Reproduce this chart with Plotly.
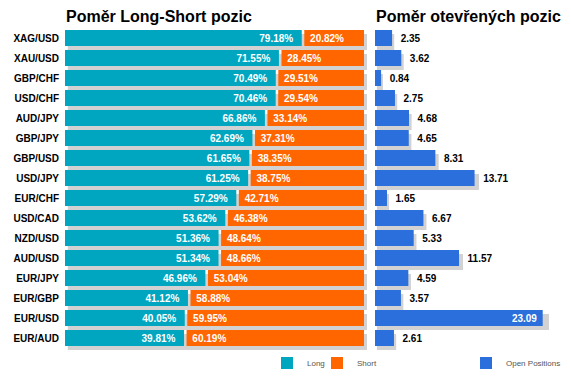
import plotly.graph_objects as go

pairs = ["XAG/USD", "XAU/USD", "GBP/CHF", "USD/CHF", "AUD/JPY", "GBP/JPY", "GBP/USD", "USD/JPY",
         "EUR/CHF", "USD/CAD", "NZD/USD", "AUD/USD", "EUR/JPY", "EUR/GBP", "EUR/USD", "EUR/AUD"]
long_pct = [79.18, 71.55, 70.49, 70.46, 66.86, 62.69, 61.65, 61.25,
            57.29, 53.62, 51.36, 51.34, 46.96, 41.12, 40.05, 39.81]
short_pct = [20.82, 28.45, 29.51, 29.54, 33.14, 37.31, 38.35, 38.75,
             42.71, 46.38, 48.64, 48.66, 53.04, 58.88, 59.95, 60.19]
open_pos = [2.35, 3.62, 0.84, 2.75, 4.68, 4.65, 8.31, 13.71,
            1.65, 6.67, 5.33, 11.57, 4.59, 3.57, 23.09, 2.61]

W, H = 571, 379
TEAL, ORANGE, BLUE, SHADOW = "#00A6C0", "#FF6600", "#2A6FDB", "#D2D2D2"
FONT = "Liberation Sans, Arial, sans-serif"
GAP = 0.85  # white gap between long and short (percentage units)
NB = "\u00a0"

def px(x):
    return x / W

def py(y):
    return 1 - y / H

main_y = [py(348), py(28)]
shadow_y = [py(352), py(32)]
full = [100] * len(pairs)

fig = go.Figure()

# left shadow (subplot xy)
fig.add_trace(go.Bar(y=pairs, x=full, orientation="h", marker=dict(color=SHADOW, line_width=0),
                     xaxis="x", yaxis="y", showlegend=False, hoverinfo="skip"))
# left main (x2y2)
fig.add_trace(go.Bar(y=pairs, x=long_pct, orientation="h", name="Long",
                     marker=dict(color=TEAL, line_width=0),
                     text=[f"{v:.2f}%{NB}{NB}" for v in long_pct], textposition="inside",
                     insidetextanchor="end", textangle=0, constraintext="none",
                     insidetextfont=dict(color="white", size=10, family=FONT, weight="bold"),
                     xaxis="x2", yaxis="y2", legend="legend", hoverinfo="skip"))
fig.add_trace(go.Bar(y=pairs, x=[s - GAP for s in short_pct], base=[l + GAP for l in long_pct],
                     orientation="h", name="Short",
                     marker=dict(color=ORANGE, line_width=0),
                     text=[f"{NB}{v:.2f}%" for v in short_pct], textposition="inside",
                     insidetextanchor="start", textangle=0, constraintext="none",
                     insidetextfont=dict(color="white", size=10, family=FONT, weight="bold"),
                     xaxis="x2", yaxis="y2", legend="legend3", hoverinfo="skip"))
# right shadow (x3y3)
fig.add_trace(go.Bar(y=pairs, x=open_pos, orientation="h", marker=dict(color=SHADOW, line_width=0),
                     xaxis="x3", yaxis="y3", showlegend=False, hoverinfo="skip"))
# right main (x4y4)
fig.add_trace(go.Bar(y=pairs, x=open_pos, orientation="h", name="Open Positions",
                     marker=dict(color=BLUE, line_width=0),
                     text=[(f"{v:.2f}{NB}" if v > 20 else f"{NB}{NB}{v:.2f}") for v in open_pos],
                     textposition=["inside" if v > 20 else "outside" for v in open_pos],
                     insidetextanchor="end", textangle=0, cliponaxis=False, constraintext="none",
                     insidetextfont=dict(color="white", size=10, family=FONT, weight="bold"),
                     outsidetextfont=dict(color="black", size=10, family=FONT, weight="bold"),
                     xaxis="x4", yaxis="y4", legend="legend2", hoverinfo="skip"))

hidden_x = dict(visible=False, fixedrange=True)
def yax(domain, show=False):
    return dict(domain=domain, type="category", categoryorder="array", categoryarray=pairs,
                range=[len(pairs) - 0.5, -0.5], showgrid=False, zeroline=False, showline=False,
                ticks="", showticklabels=show, automargin=False, fixedrange=True,
                tickfont=dict(family=FONT, size=10, color="black", weight="bold"),
                ticklabelstandoff=5)

def leg(x_swatch):
    return dict(orientation="h", x=px(x_swatch - 14), y=py(363), xanchor="left", yanchor="middle",
                font=dict(family=FONT, size=8, color="#555"), bgcolor="rgba(0,0,0,0)",
                itemclick=False, itemdoubleclick=False)

fig.update_layout(
    width=W, height=H, margin=dict(l=0, r=0, t=0, b=0),
    paper_bgcolor="white", plot_bgcolor="rgba(0,0,0,0)",
    barmode="overlay", bargap=0.2, showlegend=True,
    xaxis=dict(hidden_x, domain=[px(67.5), px(367)], range=[0, 100], anchor="y"),
    yaxis=yax(shadow_y) | dict(anchor="x"),
    xaxis2=dict(hidden_x, domain=[px(65), px(364)], range=[0, 100], anchor="y2"),
    yaxis2=yax(main_y, True) | dict(anchor="x2"),
    xaxis3=dict(hidden_x, domain=[px(376.7), px(376.7 + 26 * 7.46)], range=[0, 26], anchor="y3"),
    yaxis3=yax(shadow_y) | dict(anchor="x3"),
    xaxis4=dict(hidden_x, domain=[px(375), px(375 + 26 * 7.263)], range=[0, 26], anchor="y4"),
    yaxis4=yax(main_y) | dict(anchor="x4"),
    legend=leg(281),
    legend3=leg(331),
    legend2=leg(480),
    annotations=[
        dict(text="Poměr Long-Short pozic", xref="paper", yref="paper", x=px(64), y=py(16),
             xanchor="left", yanchor="middle", showarrow=False,
             font=dict(family=FONT, size=16, color="black", weight="bold")),
        dict(text="Poměr otevřených pozic", xref="paper", yref="paper", x=px(374), y=py(16),
             xanchor="left", yanchor="middle", showarrow=False,
             font=dict(family=FONT, size=16, color="black", weight="bold")),
    ],
)

fig.write_html("out.html", config={"displayModeBar": False},
               post_script="document.body.style.margin='0';")
